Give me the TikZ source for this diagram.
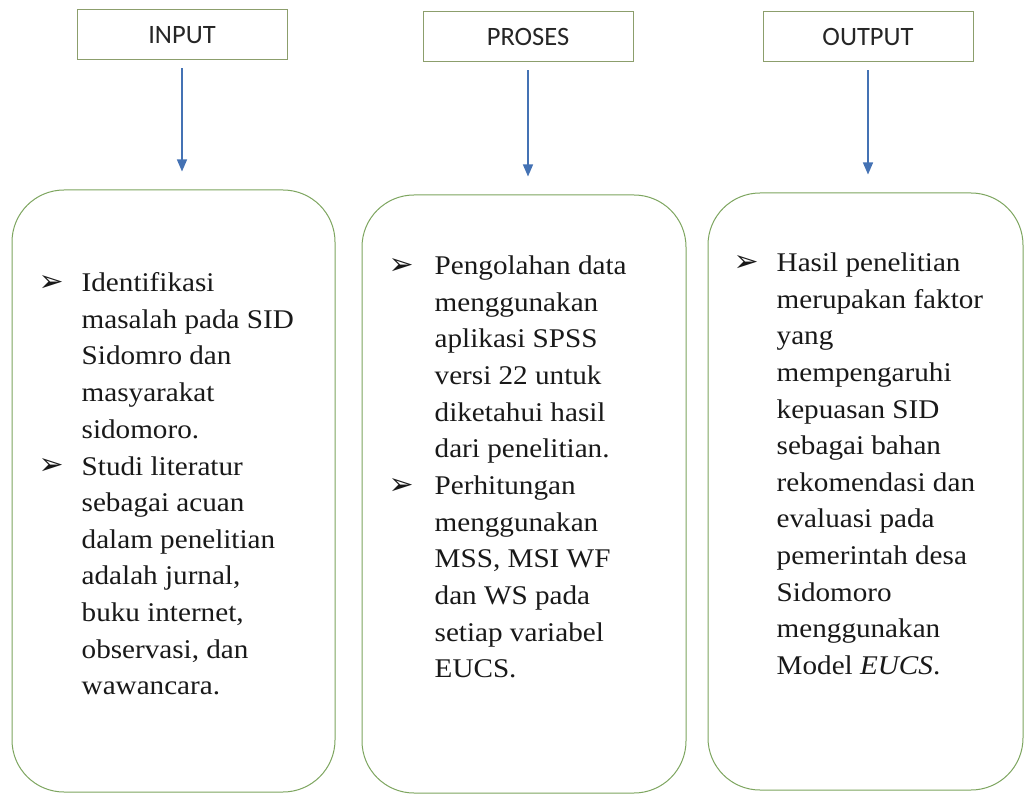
\documentclass[tikz,border=0pt]{standalone}
\usepackage{fontspec}
\usepackage{tikz}
\usetikzlibrary{arrows.meta, positioning, calc}
\newfontfamily\bodyfont[FakeStretch=1.08]{Liberation Serif}
\newfontfamily\headfont{Carlito}
\newfontfamily\symfont{DejaVu Sans}
\definecolor{hdborder}{RGB}{140,158,108}
\definecolor{boxborder}{RGB}{125,165,95}
\definecolor{flowblue}{RGB}{68,114,180}
\tikzstyle{header} = [rectangle, draw=hdborder, line width=1pt, minimum width=210pt, minimum height=50pt, inner sep=0pt, text centered, font=\headfont\fontsize{26.5}{30}\selectfont, text=black!85]
\tikzstyle{panel} = [rectangle, rounded corners=52pt, draw=boxborder, line width=1pt, fill=white, inner sep=0pt]
\tikzstyle{item} = [anchor=north west, inner sep=0pt, align=left, font=\bodyfont\fontsize{27}{36.6}\selectfont, text=black!90]
\tikzstyle{bullet} = [anchor=base west, inner sep=0pt, font=\symfont\bfseries\fontsize{30}{34}\selectfont, text=black!90]
\tikzstyle{arrow} = [line width=1.3pt, draw=flowblue, -{Triangle[width=10pt,length=12pt]}, shorten <=8pt, shorten >=18pt]

\begin{document}
\begin{tikzpicture}[x=1pt, y=-1pt]
    \useasboundingbox (0,0) rectangle (1026,794);

    % Header boxes
    \node (inhd) [header] at (182,35) {INPUT};
    \node (prhd) [header] at (528,37) {PROSES};
    \node (outhd) [header] at (868,37) {OUTPUT};

    % Rounded panels
    \node (inbox) [panel, minimum width=323pt, minimum height=602pt] at (173.5,491) {};
    \node (prbox) [panel, minimum width=324pt, minimum height=598pt] at (524,494) {};
    \node (outbox) [panel, minimum width=315pt, minimum height=597pt] at (865.5,491.5) {};

    % Input items
    \node (in1) [item] at ($(inbox.north west)+(70,76.4)$) {\strut Identifikasi\\masalah pada SID\\Sidomro dan\\masyarakat\\sidomoro.\strut};
    \node (in2) [item] at (in1.south west) {\strut Studi literatur\\sebagai acuan\\dalam penelitian\\adalah jurnal,\\buku internet,\\observasi, dan\\wawancara.\strut};
    \node (inb1) [bullet] at ($(in1.north west)+(-43,25.6)$) {➢};
    \node (inb2) [bullet] at ($(in2.north west)+(-43,25.6)$) {➢};

    % Proses items
    \node (pr1) [item] at ($(prbox.north west)+(73,54.4)$) {\strut Pengolahan data\\menggunakan\\aplikasi SPSS\\versi 22 untuk\\diketahui hasil\\dari penelitian.\strut};
    \node (pr2) [item] at (pr1.south west) {\strut Perhitungan\\menggunakan\\MSS, MSI WF\\dan WS pada\\setiap variabel\\EUCS.\strut};
    \node (prb1) [bullet] at ($(pr1.north west)+(-46,25.6)$) {➢};
    \node (prb2) [bullet] at ($(pr2.north west)+(-46,25.6)$) {➢};

    % Output item
    \node (out1) [item] at ($(outbox.north west)+(69,53.4)$) {\strut Hasil penelitian\\merupakan faktor\\yang\\mempengaruhi\\kepuasan SID\\sebagai bahan\\rekomendasi dan\\evaluasi pada\\pemerintah desa\\Sidomoro\\menggunakan\\Model \textit{EUCS}.\strut};
    \node (outb1) [bullet] at ($(out1.north west)+(-43,25.6)$) {➢};

    % Arrows
    \draw [arrow] (inhd.south) -- (inhd.south |- inbox.north);
    \draw [arrow] (prhd.south) -- (prhd.south |- prbox.north);
    \draw [arrow] (outhd.south) -- (outhd.south |- outbox.north);
\end{tikzpicture}
\end{document}
